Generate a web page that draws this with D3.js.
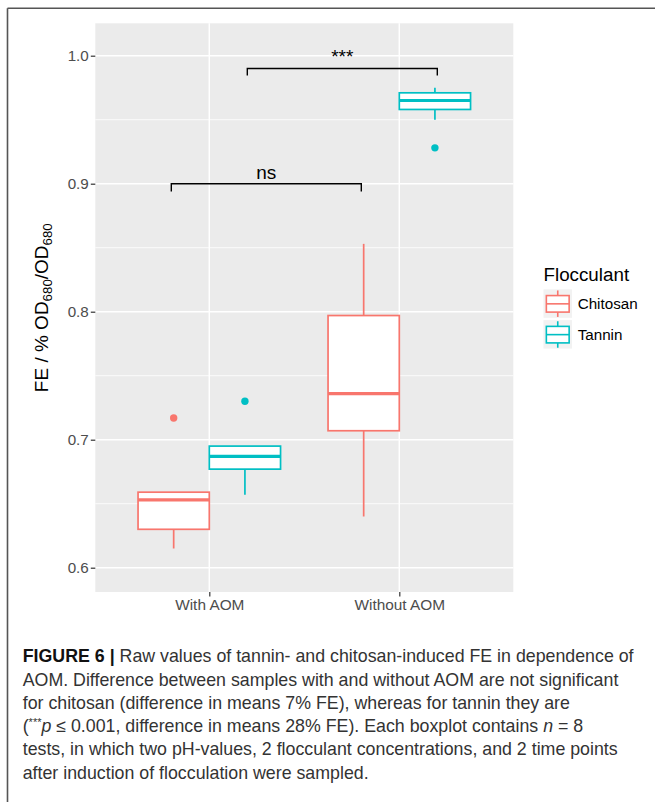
<!DOCTYPE html>
<html>
<head>
<meta charset="utf-8">
<script src="https://cdn.jsdelivr.net/npm/d3@7"></script>
<style>
  html, body { margin: 0; padding: 0; background: #fff; }
  svg { display: block; font-family: "Liberation Sans", Arial, Helvetica, sans-serif; }
</style>
</head>
<body>
<svg id="chart" width="655" height="802"></svg>
<script>
// ---------- data ----------
const categories = ["With AOM", "Without AOM"];
const flocculants = ["Chitosan", "Tannin"];
const colors = ["#F8766D", "#00BFC4"];
// box statistics per flocculant, per category: [lowerWhisker, q1, median, q3, upperWhisker]
const chitosanStats = [[0.615, 0.630, 0.653, 0.659, 0.659], [0.640, 0.707, 0.736, 0.797, 0.853]];
const tanninStats   = [[0.657, 0.677, 0.687, 0.695, 0.695], [0.950, 0.958, 0.965, 0.971, 0.975]];
const chitosanOutliers = [[0.717], []];
const tanninOutliers   = [[0.730], [0.928]];
const yTicks = [0.6, 0.7, 0.8, 0.9, 1.0];
const yMinor = [0.65, 0.75, 0.85, 0.95];
const bracketFrom = ["With AOM", "With AOM"];
const bracketTo = ["Without AOM", "Without AOM"];
const bracketOffset = [-0.2, 0.2];
const bracketY = [0.9, 0.99];
const bracketTip = [0.006, 0.0055];
const bracketLabels = ["ns", "***"];
const legendTitle = "Flocculant";

// ---------- layout ----------
const svg = d3.select("#chart");
const panel = { left: 95.3, right: 513.3, top: 23.3, bottom: 592 };

svg.append("rect").attr("width", 655).attr("height", 802).attr("fill", "#fff");

// frame lines
svg.append("line").attr("x1", 7.5).attr("x2", 655).attr("y1", 8.3).attr("y2", 8.3)
  .attr("stroke", "#555").attr("stroke-width", 1.6);
svg.append("line").attr("x1", 7.5).attr("x2", 7.5).attr("y1", 8.3).attr("y2", 802)
  .attr("stroke", "#555").attr("stroke-width", 1.6);

const x = d3.scalePoint().domain(categories).range([209.3, 399.3]);
const step = x(categories[1]) - x(categories[0]);
const dodge = d3.scaleBand().domain(flocculants).range([-0.375 * step, 0.375 * step]);
const y = d3.scaleLinear().domain([0.6, 1.0]).range([567.7, 55.7]);

// panel
svg.append("rect").attr("x", panel.left).attr("y", panel.top)
  .attr("width", panel.right - panel.left).attr("height", panel.bottom - panel.top)
  .attr("fill", "#EBEBEB");

const grid = svg.append("g");
grid.selectAll(".minor").data(yMinor).join("line")
  .attr("x1", panel.left).attr("x2", panel.right)
  .attr("y1", d => y(d)).attr("y2", d => y(d))
  .attr("stroke", "#fff").attr("stroke-width", 0.8);
grid.selectAll(".major").data(yTicks).join("line")
  .attr("x1", panel.left).attr("x2", panel.right)
  .attr("y1", d => y(d)).attr("y2", d => y(d))
  .attr("stroke", "#fff").attr("stroke-width", 1.5);
grid.selectAll(".vmajor").data(categories).join("line")
  .attr("x1", d => x(d)).attr("x2", d => x(d))
  .attr("y1", panel.top).attr("y2", panel.bottom)
  .attr("stroke", "#fff").attr("stroke-width", 1.5);

// axes
const yAxis = svg.append("g").attr("transform", `translate(${panel.left},0)`)
  .call(d3.axisLeft(y).tickValues(yTicks).tickFormat(d3.format(".1f")).tickSize(4.5).tickPadding(2));
yAxis.select(".domain").remove();
yAxis.selectAll(".tick line").attr("stroke", "#333").attr("stroke-width", 1.2);
yAxis.selectAll(".tick text").attr("fill", "#4D4D4D").style("font-size", "15.2px")
  .style("font-family", "'Liberation Sans', Arial, sans-serif");

const xAxis = svg.append("g").attr("transform", `translate(0,${panel.bottom})`)
  .call(d3.axisBottom(x).tickSize(4.5).tickPadding(2.5));
xAxis.select(".domain").remove();
xAxis.selectAll(".tick line").attr("stroke", "#333").attr("stroke-width", 1.2);
xAxis.selectAll(".tick text").attr("fill", "#4D4D4D").style("font-size", "15.4px")
  .style("font-family", "'Liberation Sans', Arial, sans-serif");

// y axis title
const yt = svg.append("text").attr("transform", "translate(47.7,307.7) rotate(-90)")
  .attr("text-anchor", "middle").attr("fill", "#000").style("font-size", "19px");
yt.append("tspan").text("FE / % OD");
yt.append("tspan").attr("dy", 4).style("font-size", "13.3px").text("680");
yt.append("tspan").attr("dy", -4).text("/OD");
yt.append("tspan").attr("dy", 4).style("font-size", "13.3px").text("680");

// boxes
const allStats = [chitosanStats, tanninStats];
const allOut = [chitosanOutliers, tanninOutliers];
const boxes = [];
flocculants.forEach((f, fi) => {
  categories.forEach((c, ci) => {
    const s = allStats[fi][ci];
    boxes.push({ f, c, color: colors[fi], lw: s[0], q1: s[1], med: s[2], q3: s[3], uw: s[4], out: allOut[fi][ci] });
  });
});
const bw = dodge.bandwidth();
const bg = svg.append("g");
boxes.forEach(b => {
  const x0 = x(b.c) + dodge(b.f);
  const cx = x0 + bw / 2;
  const g = bg.append("g");
  g.append("line").attr("x1", cx).attr("x2", cx).attr("y1", y(b.q3)).attr("y2", y(b.uw))
    .attr("stroke", b.color).attr("stroke-width", 1.7);
  g.append("line").attr("x1", cx).attr("x2", cx).attr("y1", y(b.q1)).attr("y2", y(b.lw))
    .attr("stroke", b.color).attr("stroke-width", 1.7);
  g.append("rect").attr("x", x0).attr("width", bw).attr("y", y(b.q3)).attr("height", y(b.q1) - y(b.q3))
    .attr("fill", "#fff").attr("stroke", b.color).attr("stroke-width", 1.7);
  g.append("line").attr("x1", x0).attr("x2", x0 + bw).attr("y1", y(b.med)).attr("y2", y(b.med))
    .attr("stroke", b.color).attr("stroke-width", 3.2);
  g.selectAll("circle").data(b.out).join("circle")
    .attr("cx", cx).attr("cy", d => y(d)).attr("r", 3.7).attr("fill", b.color);
});

// significance brackets
const br = svg.append("g");
bracketLabels.forEach((lab, i) => {
  const xa = x(bracketFrom[i]) + bracketOffset[i] * step;
  const xb = x(bracketTo[i]) + bracketOffset[i] * step;
  const yy = y(bracketY[i]);
  const yt2 = y(bracketY[i] - bracketTip[i]);
  br.append("path").attr("d", `M${xa},${yt2}V${yy}H${xb}V${yt2}`)
    .attr("fill", "none").attr("stroke", "#000").attr("stroke-width", 1.4);
  br.append("text").attr("x", (xa + xb) / 2).attr("y", yy - 5.2).attr("text-anchor", "middle")
    .attr("fill", "#000").style("font-size", "19px").text(lab);
});

// legend
const lg = svg.append("g").attr("transform", "translate(543.5,0)");
lg.append("text").attr("x", 0).attr("y", 280.7).style("font-size", "18.8px").attr("fill", "#000").text(legendTitle);
const ks = 28.5;
flocculants.forEach((f, i) => {
  const ky = 289.3 + i * 30.8;
  const g = lg.append("g").attr("transform", `translate(0,${ky})`);
  g.append("rect").attr("width", ks).attr("height", ks).attr("fill", "#F2F2F2");
  g.append("line").attr("x1", ks / 2).attr("x2", ks / 2).attr("y1", ks * 0.04).attr("y2", ks * 0.22)
    .attr("stroke", colors[i]).attr("stroke-width", 1.6);
  g.append("line").attr("x1", ks / 2).attr("x2", ks / 2).attr("y1", ks * 0.8).attr("y2", ks * 0.97)
    .attr("stroke", colors[i]).attr("stroke-width", 1.6);
  g.append("rect").attr("x", ks * 0.1).attr("width", ks * 0.8).attr("y", ks * 0.22).attr("height", ks * 0.58)
    .attr("fill", "#fff").attr("stroke", colors[i]).attr("stroke-width", 1.6);
  g.append("line").attr("x1", ks * 0.1).attr("x2", ks * 0.9).attr("y1", ks * 0.51).attr("y2", ks * 0.51)
    .attr("stroke", colors[i]).attr("stroke-width", 1.6);
  g.append("text").attr("x", 34.2).attr("y", ks * 0.51).attr("dy", "0.36em")
    .style("font-size", "15.2px").attr("fill", "#000").text(f);
});

// caption
const cap = svg.append("g").style("font-size", "17.8px").attr("fill", "#333");
const capX = 22.7, capY0 = 662.2, capLH = 23.3;
const l1 = cap.append("text").attr("x", capX).attr("y", capY0);
l1.append("tspan").attr("font-weight", "bold").attr("fill", "#111").text("FIGURE 6 | ");
l1.append("tspan").text("Raw values of tannin- and chitosan-induced FE in dependence of");
cap.append("text").attr("x", capX).attr("y", capY0 + capLH)
  .text("AOM. Difference between samples with and without AOM are not significant");
cap.append("text").attr("x", capX).attr("y", capY0 + 2 * capLH)
  .text("for chitosan (difference in means 7% FE), whereas for tannin they are");
const l4 = cap.append("text").attr("x", capX).attr("y", capY0 + 3 * capLH);
l4.append("tspan").text("(");
l4.append("tspan").attr("dy", -6).style("font-size", "11px").text("***");
l4.append("tspan").attr("dy", 6).attr("font-style", "italic").text("p");
l4.append("tspan").text(" ≤ 0.001, difference in means 28% FE). Each boxplot contains ");
l4.append("tspan").attr("font-style", "italic").text("n");
l4.append("tspan").text(" = 8");
cap.append("text").attr("x", capX).attr("y", capY0 + 4 * capLH)
  .text("tests, in which two pH-values, 2 flocculant concentrations, and 2 time points");
cap.append("text").attr("x", capX).attr("y", capY0 + 5 * capLH)
  .text("after induction of flocculation were sampled.");
</script>
</body>
</html>
